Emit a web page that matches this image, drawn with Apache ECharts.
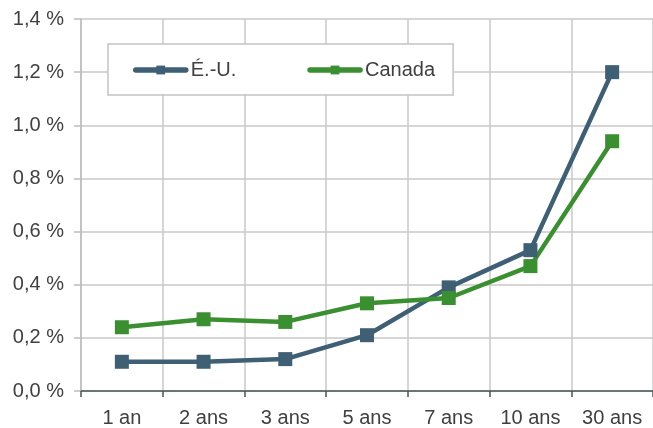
<!DOCTYPE html>
<html><head><meta charset="utf-8">
<script src="https://cdn.jsdelivr.net/npm/echarts@6/dist/echarts.min.js"></script>
<style>html,body{margin:0;padding:0;background:#fff}#c{width:653px;height:428px}</style>
</head><body><div id="c"></div>
<script>
const categories = ["1 an", "2 ans", "3 ans", "5 ans", "7 ans", "10 ans", "30 ans"];
const usValues = [0.11, 0.11, 0.12, 0.21, 0.39, 0.53, 1.20];
const canadaValues = [0.24, 0.27, 0.26, 0.33, 0.35, 0.47, 0.94];
const seriesNames = ["É.-U.", "Canada"];

const chart = echarts.init(document.getElementById('c'), null, {renderer: 'canvas'});
const mk = (name, data, color) => ({
  name, type: 'line', data,
  symbol: 'rect', symbolSize: 14,
  lineStyle: {width: 4.5, color},
  itemStyle: {color},
  emphasis: {disabled: true}
});
const FONT = 'Liberation Sans, Arial, sans-serif';
chart.setOption({
  animation: false,
  textStyle: {fontFamily: FONT},
  grid: {left: 81, right: 0, top: 19, bottom: 36},
  legend: {
    left: 108, top: 44,
    padding: [16, 18, 15, 25],
    itemGap: 71, itemWidth: 50, itemHeight: 11,
    borderColor: '#c4c4c4', borderWidth: 1.5,
    backgroundColor: '#fff',
    lineStyle: {width: 5.5, cap: 'round'},
    textStyle: {fontSize: 20, color: '#404040', fontFamily: FONT},
    data: seriesNames
  },
  xAxis: {
    type: 'category', data: categories, boundaryGap: true,
    axisLine: {lineStyle: {color: '#4a5656', width: 1.5}},
    axisTick: {show: true, length: 6, lineStyle: {color: '#4a5656', width: 1.5}},
    axisLabel: {fontSize: 20, color: '#404040', margin: 17},
    splitLine: {show: true, lineStyle: {color: '#c8c8c8', width: 1.5}}
  },
  yAxis: {
    type: 'value', min: 0, max: 1.4, interval: 0.2,
    axisLine: {show: true, lineStyle: {color: '#bcbcbc', width: 1.5}},
    axisTick: {show: true, length: 7, lineStyle: {color: '#bcbcbc', width: 1.5}},
    axisLabel: {fontSize: 20, color: '#404040', margin: 17,
      formatter: v => v.toFixed(1).replace('.', ',') + ' %'},
    splitLine: {show: true, lineStyle: {color: '#c8c8c8', width: 1.5}}
  },
  series: [
    mk(seriesNames[0], usValues, '#3f5f75'),
    mk(seriesNames[1], canadaValues, '#3a8f30')
  ]
});
</script></body></html>
